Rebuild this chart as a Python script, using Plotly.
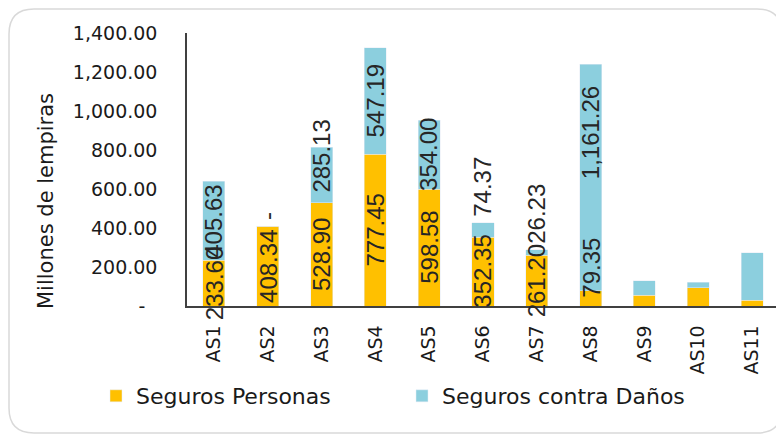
import plotly.graph_objects as go

categories = ["AS1", "AS2", "AS3", "AS4", "AS5", "AS6", "AS7", "AS8", "AS9", "AS10", "AS11"]
personas = [233.60, 408.34, 528.90, 777.45, 598.58, 352.35, 261.20, 79.35, 56.0, 94.0, 30.0]
danos = [405.63, 0.0, 285.13, 547.19, 354.00, 74.37, 26.23, 1161.26, 74.0, 28.0, 243.0]
show_label = [True, True, True, True, True, True, True, True, False, False, False]
y_tickvals = [0, 200, 400, 600, 800, 1000, 1200, 1400]

# label placement styles (not data)
personas_label_mode = ["mid", "mid", "mid", "mid", "mid", "mid", "mid", "base", "mid", "mid", "mid"]
danos_label_mode = ["mid", "above", "mid+", "mid", "mid", "above", "above", "top", "mid", "mid", "mid"]


def fmt(v):
    return f"{v:,.2f}" if v else "-"


def fmt_tick(v):
    return f"{v:,.2f}" if v else "-\u00a0\u00a0"


# the page body has an 8px margin; layout is expressed in page pixels
OFF = 8
W, H = 784 - OFF, 435 - OFF
PL, PR, PT, PB = 187, 779, 33, 306          # plot area in page pixels
L, R, T, B = PL - OFF, W - (PR - OFF), PT - OFF, H - (PB - OFF)
PW, PH = PR - PL, PB - PT


def px_x(x):
    return (x - PL) / PW


def px_y(y):
    return (PB - y) / PH


ORANGE = "#FFC000"
BLUE = "#8CCFDE"
TXT = "#262626"
FONT = "DejaVu Sans"
LABEL_FONT = dict(family="Liberation Sans, Arial", size=24, color=TXT)

fig = go.Figure()
fig.add_trace(go.Bar(x=categories, y=personas, name="Seguros Personas", marker_color=ORANGE))
fig.add_trace(go.Bar(x=categories, y=danos, name="Seguros contra Daños", marker_color=BLUE))


def add_labels(values, bases, modes):
    for cat, v, b, m, s in zip(categories, values, bases, modes, show_label):
        if not s:
            continue
        kw = dict(x=cat, xref="x", yref="y", text=fmt(v), textangle=-90, showarrow=False,
                  font=LABEL_FONT)
        if m == "mid":
            kw.update(y=b + v / 2, yanchor="middle")
        elif m == "mid+":
            kw.update(y=b + v / 2, yanchor="middle", yshift=19)
        elif m == "above":
            kw.update(y=b + v, yanchor="bottom", yshift=4)
        elif m == "base":
            kw.update(y=b, yanchor="bottom", yshift=6)
        elif m == "top":
            kw.update(y=b + v, yanchor="top", yshift=-20)
        fig.add_annotation(**kw)


add_labels(personas, [0] * len(personas), personas_label_mode)
add_labels(danos, personas, danos_label_mode)

# rounded frame around the whole chart
x0, x1 = px_x(9), px_x(782)
y0, y1 = px_y(433), px_y(9)
rx, ry = 25 / PW, 25 / PH
path = (f"M{x0+rx},{y1} L{x1-rx},{y1} Q{x1},{y1} {x1},{y1-ry} "
        f"L{x1},{y0+ry} Q{x1},{y0} {x1-rx},{y0} L{x0+rx},{y0} "
        f"Q{x0},{y0} {x0},{y0+ry} L{x0},{y1-ry} Q{x0},{y1} {x0+rx},{y1} Z")
fig.add_shape(type="path", path=path, xref="paper", yref="paper",
              line=dict(color="#D9D9D9", width=1.5), layer="below")

fig.add_annotation(text="Millones de lempiras", xref="paper", yref="paper",
                   x=px_x(46), y=px_y(201), xanchor="center", yanchor="middle",
                   textangle=-90, showarrow=False,
                   font=dict(family=FONT, size=21, color="#1a1a1a"))

fig.update_layout(
    width=W, height=H, margin=dict(l=L, r=R, t=T, b=B, autoexpand=False),
    barmode="stack", bargap=0.59,
    plot_bgcolor="white", paper_bgcolor="white",
    font=dict(family=FONT, size=19, color="#1a1a1a"),
    showlegend=True,
    legend=dict(orientation="h", x=px_x(96), y=px_y(396), xanchor="left", yanchor="middle",
                font=dict(family=FONT, size=22, color="#1a1a1a"),
                entrywidth=261, entrywidthmode="pixels", traceorder="normal"),
)
fig.update_xaxes(showline=True, linecolor="#404040", linewidth=1.5, tickangle=-90,
                 ticks="", showgrid=False, ticklabelstandoff=10,
                 tickfont=dict(family=FONT, size=19, color="#1a1a1a"))
fig.update_yaxes(range=[0, 1400], tickvals=y_tickvals, ticktext=[fmt_tick(v) for v in y_tickvals],
                 showline=True, linecolor="#404040", linewidth=1.5, showgrid=False,
                 zeroline=False, ticks="", ticklabelstandoff=24,
                 tickfont=dict(family=FONT, size=19, color="#1a1a1a"))

fig.write_html("out.html")
